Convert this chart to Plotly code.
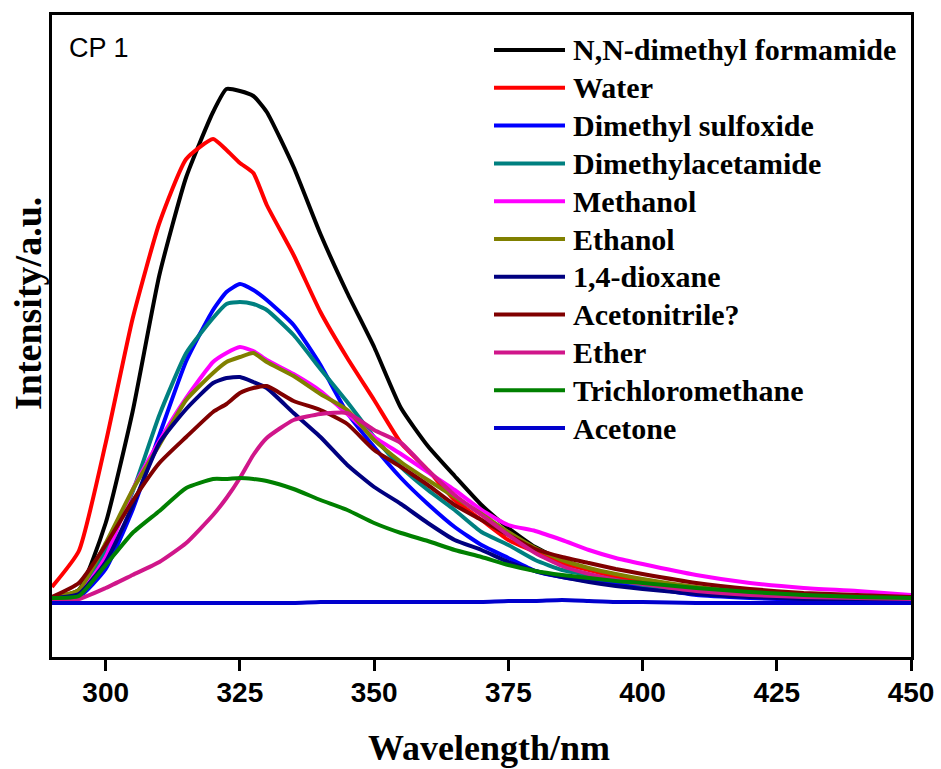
import plotly.graph_objects as go

# ---------------- data ----------------
WAVELENGTH = [290, 295, 300, 305, 310, 315, 320, 322.5, 325, 327.5, 330, 335, 340, 345, 350, 355,
              360, 365, 370, 375, 380, 385, 390, 395, 400, 410, 420, 430, 440, 450]

DMF = [2, 10, 77, 188, 325, 423, 488, 511, 509, 504, 488, 433, 366, 307, 253, 192,
       154, 124, 95, 72, 53, 40, 31, 24, 18, 10, 6, 3, 1, 0]
WATER = [13, 49, 157, 281, 377, 441, 461, 450, 437, 427, 395, 345, 288, 242, 200, 157,
         130, 100, 80, 60, 48, 37, 30, 23, 18, 10, 6, 4, 2, 1]
DMSO = [2, 3, 31, 90, 165, 239, 290, 308, 316, 310, 300, 275, 235, 187, 153, 122,
        96, 73, 55, 42, 29, 23, 19, 16, 13, 5, 2, 0, -1, -1]
DMAC = [2, 8, 50, 108, 185, 247, 282, 296, 298, 296, 290, 265, 231, 198, 163, 133,
        110, 90, 68, 55, 40, 30, 25, 20, 15, 8, 4, 2, 1, 0]
METHANOL = [2, 6, 43, 110, 159, 202, 238, 247, 253, 249, 240, 226, 209, 186, 163, 146,
            128, 110, 90, 75, 69, 60, 50, 42, 36, 25, 17, 12, 9, 5]
ETHANOL = [3, 10, 57, 110, 155, 200, 227, 238, 243, 247, 238, 224, 206, 190, 160, 138,
           120, 103, 86, 68, 52, 40, 32, 26, 21, 13, 8, 5, 3, 2]
DIOXANE = [2, 6, 38, 94, 157, 191, 217, 222, 223, 218, 212, 187, 163, 135, 113, 96,
           77, 60, 50, 38, 29, 23, 18, 14, 11, 6, 3, 1, 0, -1]
ACETONITRILE = [3, 17, 55, 99, 137, 163, 188, 196, 207, 212, 214, 199, 190, 176, 150, 133,
                115, 95, 80, 65, 51, 43, 37, 31, 26, 17, 11, 7, 5, 3]
ETHER = [0, 1, 12, 25, 38, 57, 85, 102, 122, 145, 162, 180, 186, 187, 170, 157,
         130, 105, 85, 65, 47, 34, 26, 20, 16, 9, 5, 3, 2, 1]
CHLOROFORM = [2, 4, 35, 67, 89, 112, 121, 121, 122, 121, 119, 111, 100, 90, 77, 67,
              59, 50, 43, 35, 29, 25, 22, 19, 17, 12, 8, 5, 3, 2]
ACETONE = [-3, -3, -3, -3, -3, -3, -3, -3, -3, -3, -3, -3, -2, -2, -2, -2,
           -2, -2, -2, -1, -1, 0, -1, -2, -2, -3, -3, -3, -3, -3]

SERIES_NAMES = ["N,N-dimethyl formamide", "Water", "Dimethyl sulfoxide",
                "Dimethylacetamide", "Methanol", "Ethanol", "1,4-dioxane",
                "Acetonitrile?", "Ether", "Trichloromethane", "Acetone"]
SERIES_VALUES = [DMF, WATER, DMSO, DMAC, METHANOL, ETHANOL, DIOXANE,
                 ACETONITRILE, ETHER, CHLOROFORM, ACETONE]
COLORS = ["#000000", "#FF0000", "#0000FF", "#008080", "#FF00FF", "#808000",
          "#000080", "#800000", "#D0168A", "#008000", "#0000CD"]

X_TICKS = [300, 325, 350, 375, 400, 425, 450]
X_MINOR = [312.5, 337.5, 362.5, 387.5, 412.5, 437.5]

# ---------------- figure ----------------
W, H = 941, 769
ML, MR, MT, MB = 52, 30, 15, 112
PW, PH = W - ML - MR, H - MT - MB


def px_x(px):
    return (px - ML) / PW


def px_y(py):
    return (H - MB - py) / PH


fig = go.Figure()
for name, vals, col in zip(SERIES_NAMES, SERIES_VALUES, COLORS):
    fig.add_trace(go.Scatter(
        x=WAVELENGTH, y=vals, mode="lines", name=name, showlegend=False,
        line=dict(color=col, width=4, shape="spline", smoothing=0.5),
    ))

serif = "Liberation Serif, Times New Roman, serif"
sans = "Liberation Sans, Arial, sans-serif"

# manual legend (long sample lines as in the reference)
shapes = []
annotations = []
for i, (name, col) in enumerate(zip(SERIES_NAMES, COLORS)):
    yc = 50 + i * 37.8
    shapes.append(dict(type="line", xref="paper", yref="paper",
                       x0=px_x(494), x1=px_x(565), y0=px_y(yc), y1=px_y(yc),
                       line=dict(color=col, width=4)))
    annotations.append(dict(xref="paper", yref="paper", x=px_x(571), y=px_y(yc),
                            xanchor="left", yanchor="middle", showarrow=False,
                            text=name,
                            font=dict(family=serif, size=30, color="black", weight="bold")))

annotations.append(dict(xref="paper", yref="paper", x=px_x(67), y=px_y(48),
                        xanchor="left", yanchor="middle", showarrow=False,
                        text="CP 1", font=dict(family=sans, size=27, color="black")))

# axis titles
annotations.append(dict(xref="paper", yref="paper", x=px_x(489), y=px_y(748),
                        xanchor="center", yanchor="middle", showarrow=False,
                        text="Wavelength/nm",
                        font=dict(family=serif, size=36, color="black", weight="bold")))
annotations.append(dict(xref="paper", yref="paper", x=px_x(28), y=px_y(304),
                        xanchor="center", yanchor="middle", showarrow=False,
                        textangle=-90, text="Intensity/a.u.",
                        font=dict(family=serif, size=38, color="black", weight="bold")))

fig.update_layout(
    width=W, height=H,
    margin=dict(l=ML, r=MR, t=MT, b=MB, autoexpand=False),
    paper_bgcolor="white", plot_bgcolor="white",
    shapes=shapes, annotations=annotations,
    xaxis=dict(
        range=[290, 450], tickmode="array", tickvals=X_TICKS,
        ticks="outside", ticklen=11, tickwidth=3, tickcolor="black",
        showline=True, linewidth=3, linecolor="black", mirror=True,
        showgrid=False, zeroline=False, ticklabelstandoff=-3,
        tickfont=dict(family=sans, size=28, color="black", weight="bold"),
    ),
    # second x axis only carries the short minor ticks
    xaxis2=dict(
        range=[290, 450], overlaying="x", anchor="y", side="bottom",
        tickmode="array", tickvals=X_MINOR, ticks="outside",
        ticklen=6, tickwidth=3, tickcolor="black",
        showticklabels=False, showline=False, showgrid=False, zeroline=False,
    ),
    yaxis=dict(
        range=[-57, 585], showticklabels=False, ticks="",
        showline=True, linewidth=3, linecolor="black", mirror=True,
        showgrid=False, zeroline=False,
    ),
)

fig.write_html("out.html")
